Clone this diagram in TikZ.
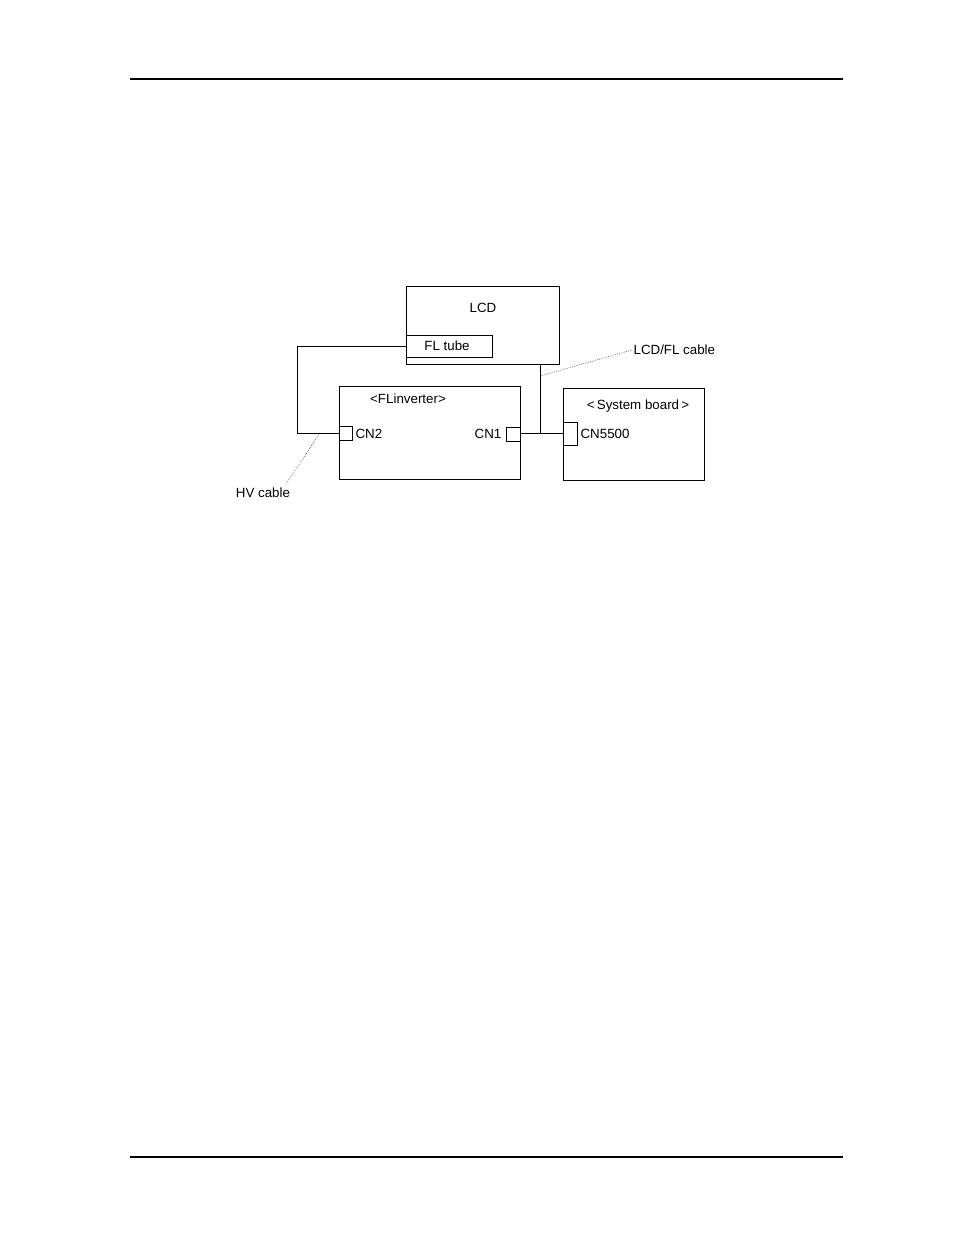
\documentclass[tikz,border=0pt]{standalone}
\usepackage{fontspec}
\setmainfont{Liberation Sans}
\usetikzlibrary{positioning}
\begin{document}
\begin{tikzpicture}[x=0.75pt,y=-0.75pt,
  box/.style={draw,thin,inner sep=0pt},
  lbl/.style={font=\fontsize{10}{12}\selectfont,inner sep=1pt},
  leader/.style={densely dotted,thin}]
\useasboundingbox (0,0) rectangle (954,1235);
% page rules
\draw[line width=2.2pt] (130,79) -- (843,79);
\draw[line width=2.2pt] (130,1157) -- (843,1157);
% boxes
\draw[box] (406,286) rectangle (559,364);
\node[lbl] (lcd) at (483,308) {LCD};
\draw[box] (406,335) rectangle (492,357);
\node[lbl] (fltube) at (447,346) {FL tube};
\coordinate (fl) at (406,346);
\draw[box] (339,386) rectangle (520,479);
\node[lbl] (inv) at (408,399) {<FLinverter>};
\draw[box] (339,426) rectangle (352,440);
\coordinate (cn2) at (339,433);
\node[lbl,anchor=west] (cn2l) at (354,434) {CN2};
\draw[box] (506,427) rectangle (520,441);
\coordinate (cn1) at (520,433);
\node[lbl,anchor=east] (cn1l) at (503,434) {CN1};
\draw[box] (563,388) rectangle (704,480);
\node[lbl] (sys) at (638,406) {<\,System board\,>};
\draw[box] (563,422) rectangle (577,445);
\coordinate (cn5500) at (563,433);
\node[lbl,anchor=west] (cn5500l) at (579,434) {CN5500};
% cables
\coordinate (lcdb) at (540,364);
\coordinate (tee) at (540,433);
\draw (fl) -- (297,346) -- (297,433) -- (cn2);
\draw (cn1) -- (cn5500);
\draw (lcdb) -- (tee);
% leaders
\node[lbl,anchor=west] (lcdfl) at (632,350) {LCD/FL cable};
\node[lbl] (hv) at (263,493) {HV cable};
\draw[leader] (540,376) -- (lcdfl.west);
\draw[leader] (320,433) -- (286,484);
\end{tikzpicture}
\end{document}
